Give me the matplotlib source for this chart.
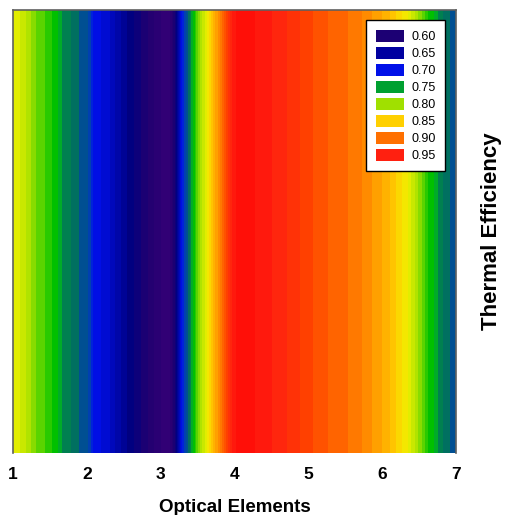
import matplotlib

matplotlib.use("Agg")

import matplotlib.pyplot as plt
import numpy as np
from matplotlib.colors import LinearSegmentedColormap
from matplotlib.patches import Patch

plt.rcParams["font.family"] = ["Liberation Sans", "DejaVu Sans"]

# Thermal efficiency read along the optical-element axis (constant vertically)
elements = [1.00, 1.135, 1.31, 1.49, 1.58, 1.66, 1.84, 2.02, 2.08, 2.31, 2.58, 2.79,
            3.00, 3.13, 3.21, 3.29, 3.37, 3.44, 3.53, 3.63, 3.71, 3.83, 3.97, 4.07,
            4.21, 4.28, 4.62, 4.89, 5.16, 5.36, 5.54, 5.73, 5.93, 6.07, 6.15, 6.27,
            6.35, 6.49, 6.62, 6.70, 6.78, 6.88, 7.00]
efficiency = [0.83, 0.815, 0.79, 0.775, 0.765, 0.75, 0.735, 0.72, 0.70, 0.68, 0.645, 0.625,
              0.60, 0.60, 0.64, 0.70, 0.73, 0.76, 0.80, 0.83, 0.86, 0.90, 0.95, 0.97,
              0.97, 0.96, 0.945, 0.93, 0.915, 0.905, 0.90, 0.89, 0.875, 0.865, 0.855, 0.84,
              0.83, 0.80, 0.77, 0.76, 0.745, 0.735, 0.72]

legend_levels = ["0.60", "0.65", "0.70", "0.75", "0.80", "0.85", "0.90", "0.95"]
legend_colors = ["#1c0074", "#0000a0", "#0010e8", "#00a030", "#a0e000", "#ffd000", "#ff7000", "#ff2010"]

# colour ramp anchors (value, colour)
ramp = [
    (0.58, "#3a0078"), (0.62, "#200070"), (0.645, "#000080"), (0.70, "#0010f0"),
    (0.715, "#0040b0"), (0.725, "#005090"), (0.735, "#007060"), (0.745, "#008050"),
    (0.75, "#00a040"), (0.765, "#00c000"), (0.78, "#40d000"), (0.80, "#a0e000"),
    (0.83, "#f0f000"), (0.85, "#ffd000"), (0.875, "#ffa000"), (0.90, "#ff7000"),
    (0.925, "#ff4000"), (0.95, "#ff2010"), (0.98, "#ff0000"),
]
vmin, vmax = ramp[0][0], ramp[-1][0]
cmap = LinearSegmentedColormap.from_list(
    "thermal", [((v - vmin) / (vmax - vmin), c) for v, c in ramp])

fig = plt.figure(figsize=(5.07, 5.15), dpi=100)
ax = fig.add_axes([0.0256, 0.1204, 0.8738, 0.8602])

x = np.array(elements)
z = np.vstack([efficiency, efficiency])
y = np.array([0.0, 1.0])
levels = np.arange(0.58, 0.985, 0.01)
ax.contourf(x, y, z, levels=levels, cmap=cmap, vmin=vmin, vmax=vmax, antialiased=False)

ax.set_xlim(1, 7)
ax.set_ylim(0, 1)
ax.set_xticks(range(1, 8))
ax.set_yticks([])
ax.tick_params(axis="x", length=0, pad=10, labelsize=12.5)
for lbl in ax.get_xticklabels():
    lbl.set_fontweight("bold")

ax.set_xlabel("Optical Elements", fontsize=13.5, fontweight="bold", labelpad=12)
ax.yaxis.set_label_position("right")
ax.set_ylabel("Thermal Efficiency", fontsize=16, fontweight="bold", labelpad=18)

for side in ("left", "top", "right"):
    ax.spines[side].set_color("#606060")
    ax.spines[side].set_linewidth(1.2)
ax.spines["bottom"].set_visible(False)

handles = [Patch(facecolor=c, edgecolor="none", label=l)
           for l, c in zip(legend_levels, legend_colors)]
leg = ax.legend(handles=handles, loc="upper right", bbox_to_anchor=(0.975, 0.977),
                fontsize=9, fancybox=False, framealpha=1, edgecolor="black",
                handlelength=2.25, handleheight=1.1, labelspacing=0.3,
                borderpad=0.75, handletextpad=0.6, borderaxespad=0)
leg.get_frame().set_linewidth(1.0)

fig.savefig("out.png", dpi=100)
